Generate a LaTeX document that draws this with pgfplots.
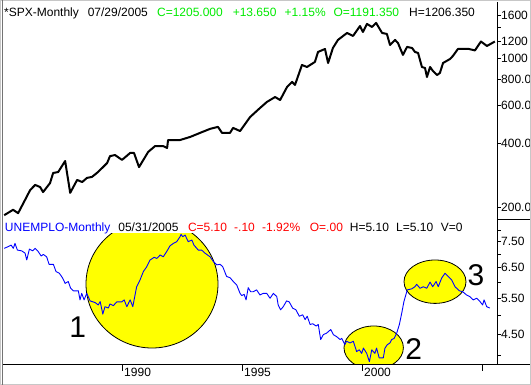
\documentclass[border=0pt]{standalone}
\usepackage{fontspec}
\setmainfont{Liberation Sans}
\usepackage{pgfplots}
\pgfplotsset{compat=1.18}
\definecolor{tcgreen}{RGB}{0,235,0}
\definecolor{tcred}{RGB}{255,0,0}
\definecolor{tcblue}{RGB}{0,0,255}
\definecolor{tcyellow}{RGB}{255,255,0}
\newcommand{\tf}{\fontsize{12}{14}\selectfont}
\begin{document}
\begin{tikzpicture}
\useasboundingbox (0pt,0pt) rectangle (531pt,385pt);
\clip (0pt,0pt) rectangle (531pt,385pt);
\fill[white] (0pt,0pt) rectangle (531pt,385pt);
% yellow highlight ellipses (annotations), clipped to lower panel
\begin{scope}[x=1pt,y=1pt]
\clip (3,21) rectangle (497.5,166);
\filldraw[fill=tcyellow, draw=black, line width=0.8pt] (152,101) ellipse [x radius=66, y radius=64];
\filldraw[fill=tcyellow, draw=black, line width=0.8pt] (373.7,37.3) ellipse [x radius=29.7, y radius=21.7];
\filldraw[fill=tcyellow, draw=black, line width=0.8pt] (435,103.3) ellipse [x radius=31, y radius=21.7];
\end{scope}
% ---------- top panel: SPX monthly ----------
\begin{axis}[
  at={(3pt,166pt)}, anchor=south west,
  width=494.5pt, height=216pt, scale only axis,
  xmin=1985.03, xmax=2005.64,
  ymode=log, ymin=175.6, ymax=1822,
  axis line style={draw=none},
  xtick=\empty,
  ytick={200,400,600,800,1000,1200,1400,1600},
  yticklabels={200.0,400.0,600.0,800.0,1000,1200,,1600},
  ytick pos=right, yticklabel pos=right,
  tick align=outside, major tick length=3.5pt,
  tick style={black, line width=0.8pt},
  yticklabel style={font=\tf, anchor=west, inner sep=0pt},
  clip=true,
]
\addplot[black, line width=2pt, line join=round] coordinates {
(1985.08,183)(1985.45,194)(1985.66,187)(1985.95,216)(1986.16,240)(1986.37,254)
(1986.58,248)(1986.70,235)(1986.99,259)(1987.12,289)(1987.33,292)(1987.62,329)
(1987.83,233)(1988.12,268)(1988.33,262)(1988.53,274)(1988.74,277)(1988.99,292)
(1989.37,322)(1989.49,347)(1989.70,351)(1989.99,333)(1990.33,359)(1990.49,359)
(1990.70,308)(1991.08,363)(1991.37,387)(1991.70,387)(1991.87,379)(1991.91,413)
(1992.41,413)(1992.83,427)(1993.24,446)(1993.66,466)(1993.99,476)(1994.16,446)
(1994.49,446)(1994.62,471)(1994.91,455)(1995.33,530)(1995.74,584)(1996.03,624)
(1996.37,658)(1996.58,637)(1996.87,734)(1997.08,775)(1997.20,750)(1997.49,931)
(1997.70,911)(1998.03,962)(1998.16,1072)(1998.45,1107)(1998.58,951)(1998.78,1119)
(1998.99,1221)(1999.37,1317)(1999.62,1275)(1999.91,1420)(2000.03,1331)(2000.20,1452)
(2000.41,1405)(2000.58,1468)(2000.83,1317)(2001.03,1303)(2001.16,1156)(2001.37,1221)
(2001.49,1182)(2001.70,1038)(2001.87,1132)(2002.08,1119)(2002.20,1072)(2002.33,1060)
(2002.49,911)(2002.62,901)(2002.70,817)(2002.83,911)(2002.95,872)(2003.12,835)
(2003.24,854)(2003.37,951)(2003.66,993)(2003.78,1026)(2003.99,1107)(2004.20,1107)
(2004.45,1107)(2004.70,1090)(2004.95,1200)(2005.20,1144)(2005.53,1200)
};
\end{axis}
% ---------- bottom panel: unemployment ----------
\begin{axis}[
  at={(3pt,21pt)}, anchor=south west,
  width=494.5pt, height=145pt, scale only axis,
  xmin=1985.03, xmax=2005.64,
  ymode=log, ymin=3.82, ymax=8.5,
  axis line style={draw=none},
  xtick={1990,1995,2000,2005}, xticklabels={1990,1995,2000,},
  xtick pos=left, xticklabel pos=left,
  ytick={4,4.5,5,5.5,6,6.5,7,7.5,8},
  yticklabels={,4.50,,5.50,,6.50,,7.50,},
  ytick pos=right, yticklabel pos=right,
  tick align=outside, major tick length=3.5pt,
  tick style={black, line width=0.8pt},
  xtick style={/pgfplots/major tick length=7pt},
  yticklabel style={font=\tf, anchor=west, inner sep=0pt},
  xticklabel style={font=\tf, anchor=north west, inner sep=0pt, xshift=1.8pt},
  clip=true,
]
\addplot[tcblue, line width=0.9pt, line join=round] coordinates {
(1985.08,7.23)(1985.25,7.30)(1985.37,7.36)(1985.46,7.23)(1985.53,7.43)(1985.63,7.16)
(1985.81,7.13)(1985.95,7.04)(1986.02,6.78)(1986.13,7.20)(1986.27,7.13)(1986.37,7.23)
(1986.50,7.10)(1986.62,6.93)(1986.71,6.99)(1986.85,6.90)(1986.95,6.62)(1987.13,6.62)
(1987.24,6.36)(1987.38,6.30)(1987.52,6.13)(1987.62,5.96)(1987.75,6.02)(1987.85,5.80)
(1987.96,5.72)(1988.17,5.72)(1988.24,5.44)(1988.31,5.64)(1988.41,5.44)(1988.52,5.64)
(1988.66,5.41)(1988.87,5.36)(1989.00,5.29)(1989.08,5.39)(1989.19,5.03)(1989.28,5.24)
(1989.42,5.20)(1989.49,5.32)(1989.63,5.27)(1989.77,5.38)(1989.98,5.38)(1990.08,5.44)
(1990.19,5.24)(1990.33,5.44)(1990.44,5.24)(1990.60,5.85)(1990.74,6.07)(1990.88,6.36)
(1991.02,6.53)(1991.16,6.78)(1991.33,6.88)(1991.44,6.84)(1991.58,6.97)(1991.71,6.90)
(1991.85,7.10)(1991.99,7.33)(1992.13,7.43)(1992.27,7.50)(1992.41,7.71)(1992.45,7.81)
(1992.52,7.71)(1992.62,7.78)(1992.75,7.50)(1992.90,7.57)(1992.99,7.36)(1993.17,7.16)
(1993.31,7.16)(1993.45,7.04)(1993.66,6.90)(1993.80,6.72)(1993.94,6.60)(1994.08,6.62)
(1994.19,6.53)(1994.35,6.19)(1994.49,6.15)(1994.63,6.02)(1994.77,5.91)(1994.91,5.64)
(1994.98,5.57)(1995.08,5.61)(1995.16,5.44)(1995.25,5.82)(1995.35,5.69)(1995.46,5.69)
(1995.60,5.75)(1995.74,5.59)(1995.88,5.64)(1996.02,5.64)(1996.16,5.49)(1996.30,5.64)
(1996.44,5.54)(1996.50,5.29)(1996.60,5.15)(1996.71,5.24)(1996.85,5.41)(1996.96,5.38)
(1997.10,5.20)(1997.24,5.15)(1997.38,4.97)(1997.52,5.01)(1997.62,4.88)(1997.71,4.97)
(1997.83,4.75)(1997.94,4.77)(1998.08,4.71)(1998.17,4.75)(1998.27,4.37)(1998.38,4.49)
(1998.52,4.53)(1998.69,4.62)(1998.80,4.49)(1998.94,4.44)(1999.08,4.37)(1999.15,4.40)
(1999.28,4.25)(1999.35,4.33)(1999.49,4.29)(1999.63,4.33)(1999.77,4.09)(1999.88,4.13)
(1999.98,4.05)(2000.05,4.17)(2000.19,4.05)(2000.30,3.87)(2000.40,4.13)(2000.53,4.05)
(2000.60,4.17)(2000.71,3.95)(2000.88,3.95)(2000.95,4.17)(2001.05,4.25)(2001.16,4.29)
(2001.23,4.37)(2001.33,4.40)(2001.44,4.53)(2001.55,4.75)(2001.65,5.06)(2001.74,5.39)
(2001.88,5.75)(2002.06,5.78)(2002.20,5.85)(2002.27,5.93)(2002.41,5.80)(2002.55,5.85)
(2002.69,5.80)(2002.83,6.00)(2002.94,5.85)(2003.08,6.02)(2003.17,5.85)(2003.31,6.13)
(2003.45,6.30)(2003.59,6.19)(2003.73,6.07)(2003.87,5.85)(2004.05,5.72)(2004.19,5.69)
(2004.35,5.59)(2004.49,5.54)(2004.63,5.44)(2004.77,5.49)(2004.91,5.39)(2005.02,5.29)
(2005.08,5.44)(2005.19,5.24)(2005.32,5.20)
};
\end{axis}
\begin{scope}[x=1pt,y=1pt]
% title band of lower panel
\fill[white] (3,152) rectangle (497,166);
% frame lines
\draw[black, line width=0.9pt] (497.5,21) -- (497.5,383);
\draw[black, line width=0.9pt] (3,21) -- (531,21);
\draw[black, line width=0.9pt] (497.5,166) -- (531,166);
% window border
\draw[black!22, line width=1.2pt] (0.6,0.6) rectangle (530.4,384.4);
\draw[black!55, line width=0.9pt] (2.2,0) -- (2.2,385);
% titles
\begin{scope}[every node/.style={anchor=base west, inner sep=0pt, font=\tf}]
\node at (4.0,368) {*SPX-Monthly};
\node at (87.6,368) {07/29/2005};
\node[text=tcgreen] at (156.9,368) {C=1205.000};
\node[text=tcgreen] at (232.6,368) {+13.650};
\node[text=tcgreen] at (284.5,368) {+1.15\%};
\node[text=tcgreen] at (333.4,368) {O=1191.350};
\node at (409,368) {H=1206.350};
\node[text=tcblue] at (4.8,153.8) {UNEMPLO-Monthly};
\node at (118.2,153.8) {05/31/2005};
\node[text=tcred] at (187.8,153.8) {C=5.10};
\node[text=tcred] at (234,153.8) {-.10};
\node[text=tcred] at (262,153.8) {-1.92\%};
\node[text=tcred] at (309.7,153.8) {O=.00};
\node at (349.7,153.8) {H=5.10};
\node at (396,153.8) {L=5.10};
\node at (440.7,153.8) {V=0};
\end{scope}
% circle numbers
\begin{scope}[every node/.style={inner sep=0pt, font=\fontsize{30}{34}\selectfont}]
\node at (77.7,57.5) {1};
\node at (413.7,36) {2};
\node at (476,109.5) {3};
\end{scope}
\end{scope}
\end{tikzpicture}
\end{document}
